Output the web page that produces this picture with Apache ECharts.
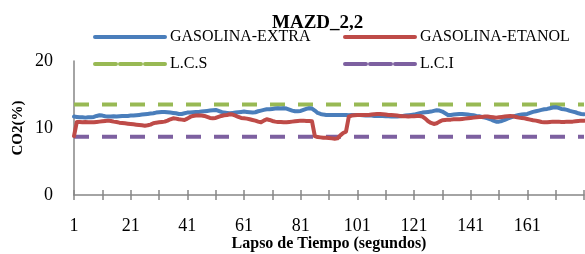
<!DOCTYPE html>
<html>
<head>
<meta charset="utf-8">
<script src="https://cdn.jsdelivr.net/npm/echarts@6/dist/echarts.min.js"></script>
<style>
  html, body { margin: 0; padding: 0; background: #fff; }
  #chart { width: 585px; height: 254px; }
</style>
</head>
<body>
<div id="chart"></div>
<script>
// segundos 1..181
const categories = [];
for (let s = 1; s <= 181; s++) categories.push(String(s));

// CO2(%)
const gasolinaExtra = [
  11.7, 11.65, 11.6, 11.6, 11.55, 11.6, 11.6, 11.65, 11.8, 11.9,
  11.85, 11.75, 11.7, 11.7, 11.75, 11.7, 11.75, 11.8, 11.8, 11.8,
  11.85, 11.85, 11.9, 11.95, 12.0, 12.05, 12.1, 12.15, 12.2, 12.3,
  12.35, 12.4, 12.4, 12.35, 12.3, 12.25, 12.2, 12.1, 12.1, 12.2,
  12.3, 12.3, 12.35, 12.4, 12.4, 12.45, 12.5, 12.55, 12.6, 12.65,
  12.7, 12.55, 12.4, 12.3, 12.25, 12.2, 12.25, 12.3, 12.35, 12.4,
  12.45, 12.4, 12.35, 12.3, 12.35, 12.5, 12.6, 12.7, 12.8, 12.8,
  12.85, 12.9, 12.95, 12.9, 12.95, 12.9, 12.75, 12.6, 12.5, 12.5,
  12.55, 12.7, 12.85, 12.95, 12.9, 12.6, 12.25, 12.1, 12.0, 11.95,
  11.95, 11.95, 11.95, 11.95, 11.95, 11.95, 11.95, 11.9, 11.95, 11.95,
  11.95, 11.95, 11.9, 11.85, 11.85, 11.85, 11.8, 11.8, 11.8, 11.8,
  11.75, 11.75, 11.7, 11.7, 11.7, 11.75, 11.8, 11.85, 11.9, 11.95,
  12.0, 12.1, 12.2, 12.3, 12.35, 12.4, 12.45, 12.55, 12.65, 12.6,
  12.45, 12.2, 11.95, 11.95, 12.0, 12.05, 12.1, 12.1, 12.05, 12.0,
  11.95, 11.9, 11.8, 11.75, 11.65, 11.55, 11.45, 11.3, 11.1, 10.95,
  10.95, 11.05, 11.2, 11.4, 11.55, 11.7, 11.85, 11.95, 12.0, 12.05,
  12.1, 12.25, 12.4, 12.5, 12.6, 12.7, 12.8, 12.85, 12.95, 13.05,
  13.1, 13.0, 12.85, 12.8, 12.7, 12.55, 12.45, 12.35, 12.2, 12.1,
  12.05
];

const gasolinaEtanol = [
  8.8, 10.9, 10.9, 10.85, 10.9, 10.85, 10.85, 10.85, 10.9, 10.95,
  11.0, 11.05, 11.1, 11.05, 10.95, 10.9, 10.8, 10.75, 10.7, 10.65,
  10.6, 10.55, 10.5, 10.45, 10.4, 10.35, 10.4, 10.5, 10.7, 10.8,
  10.85, 10.9, 10.95, 11.1, 11.3, 11.45, 11.4, 11.3, 11.25, 11.2,
  11.4, 11.65, 11.8, 11.85, 11.85, 11.85, 11.8, 11.65, 11.5, 11.45,
  11.5, 11.65, 11.8, 11.9, 11.95, 12.05, 12.0, 11.85, 11.65, 11.5,
  11.45, 11.4, 11.3, 11.2, 11.1, 10.95, 10.85, 11.1, 11.3, 11.2,
  11.05, 10.95, 10.9, 10.9, 10.85, 10.85, 10.9, 10.95, 11.0, 11.05,
  11.1, 11.1, 11.05, 11.05, 11.0, 8.8, 8.65, 8.6, 8.55, 8.55,
  8.5, 8.45, 8.4, 8.45, 8.9, 9.25, 9.45, 11.7, 11.85, 11.9,
  11.95, 11.95, 11.95, 11.95, 11.95, 12.0, 12.05, 12.1, 12.1, 12.05,
  12.0, 11.95, 11.95, 11.9, 11.85, 11.8, 11.75, 11.75, 11.7, 11.75,
  11.75, 11.8, 11.8, 11.7, 11.4, 11.0, 10.75, 10.6, 10.7, 10.95,
  11.15, 11.2, 11.25, 11.25, 11.3, 11.3, 11.3, 11.35, 11.4, 11.45,
  11.5, 11.55, 11.6, 11.65, 11.65, 11.7, 11.7, 11.65, 11.6, 11.55,
  11.6, 11.65, 11.7, 11.75, 11.8, 11.75, 11.65, 11.55, 11.5, 11.45,
  11.35, 11.25, 11.15, 11.1, 11.0, 10.9, 10.85, 10.85, 10.9, 10.95,
  10.95, 10.95, 10.9, 10.9, 10.95, 10.95, 10.95, 11.0, 11.05, 11.1,
  11.1
];

// limites de control
const LCS = 13.5;
const LCI = 8.7;

const yTicks = { min: 0, max: 20, interval: 10 };

const serif = 'Liberation Serif';
const axisGray = '#868686';

const chart = echarts.init(document.getElementById('chart'));

const mkLegend = (name, left, top, dashed) => ({
  data: [name],
  left: left,
  top: top,
  itemWidth: 70,
  itemHeight: 14,
  itemGap: 0,
  padding: 0,
  textStyle: { fontFamily: serif, fontSize: 16, color: '#000' },
  itemStyle: { opacity: 0 },
  lineStyle: { width: 4, type: dashed ? [21, 4] : 'solid', cap: 'round' },
});

const mkLine = (name, data, color, dashed) => ({
  name: name,
  type: 'line',
  data: data,
  symbol: 'none',
  animation: false,
  lineStyle: {
    color: color,
    width: 4,
    type: dashed ? [15, 13] : 'solid',
    cap: dashed ? 'butt' : 'round',
    join: 'round',
  },
  itemStyle: { color: color },
  z: dashed ? 1 : 2,
});

chart.setOption({
  animation: false,
  title: {
    text: 'MAZD_2,2',
    left: 272,
    top: 14,
    padding: 0,
    textStyle: { fontFamily: serif, fontSize: 19, fontWeight: 'bold', color: '#000' },
  },
  legend: [
    mkLegend('GASOLINA-EXTRA', 93, 29, false),
    mkLegend('GASOLINA-ETANOL', 343, 29, false),
    mkLegend('L.C.S', 93, 56, true),
    mkLegend('L.C.I', 343, 56, true),
  ],
  grid: { left: 74, right: 1, top: 61, bottom: 59, outerBoundsMode: 'none' },
  xAxis: [
    {
      type: 'category',
      data: categories,
      boundaryGap: false,
      name: 'Lapso de Tiempo (segundos)',
      nameLocation: 'middle',
      nameGap: 41,
      nameMoveOverlap: false,
      nameTextStyle: { fontFamily: serif, fontSize: 16, fontWeight: 'bold', color: '#000' },
      axisLine: { lineStyle: { color: axisGray, width: 1.5 } },
      axisTick: { show: true, interval: 9, length: 5, lineStyle: { color: axisGray, width: 1.5 } },
      axisLabel: {
        interval: (i) => i % 20 === 0 && i < 180,
        margin: 22,
        fontFamily: serif, fontSize: 18, color: '#000',
      },
      splitLine: { show: false },
    },
    {
      type: 'category',
      data: categories,
      boundaryGap: false,
      position: 'bottom',
      axisLine: { show: false },
      axisTick: { show: true, inside: true, interval: 9, length: 5, lineStyle: { color: axisGray, width: 1.5 } },
      axisLabel: { show: false },
      splitLine: { show: false },
    },
  ],
  yAxis: {
    type: 'value',
    min: yTicks.min,
    max: yTicks.max,
    interval: yTicks.interval,
    name: 'CO2(%)',
    nameLocation: 'middle',
    nameGap: 48,
    nameMoveOverlap: false,
    nameTextStyle: { fontFamily: serif, fontSize: 15, fontWeight: 'bold', color: '#000' },
    axisLine: { show: true, lineStyle: { color: axisGray, width: 1.5 } },
    axisTick: { show: false },
    axisLabel: { margin: 21, fontFamily: serif, fontSize: 18, color: '#000' },
    splitLine: { show: false },
  },
  series: [
    mkLine('GASOLINA-EXTRA', gasolinaExtra, '#4A7EBB', false),
    mkLine('GASOLINA-ETANOL', gasolinaEtanol, '#BE4B48', false),
    mkLine('L.C.S', categories.map(() => LCS), '#98B954', true),
    mkLine('L.C.I', categories.map(() => LCI), '#7D60A0', true),
  ],
});
</script>
</body>
</html>
